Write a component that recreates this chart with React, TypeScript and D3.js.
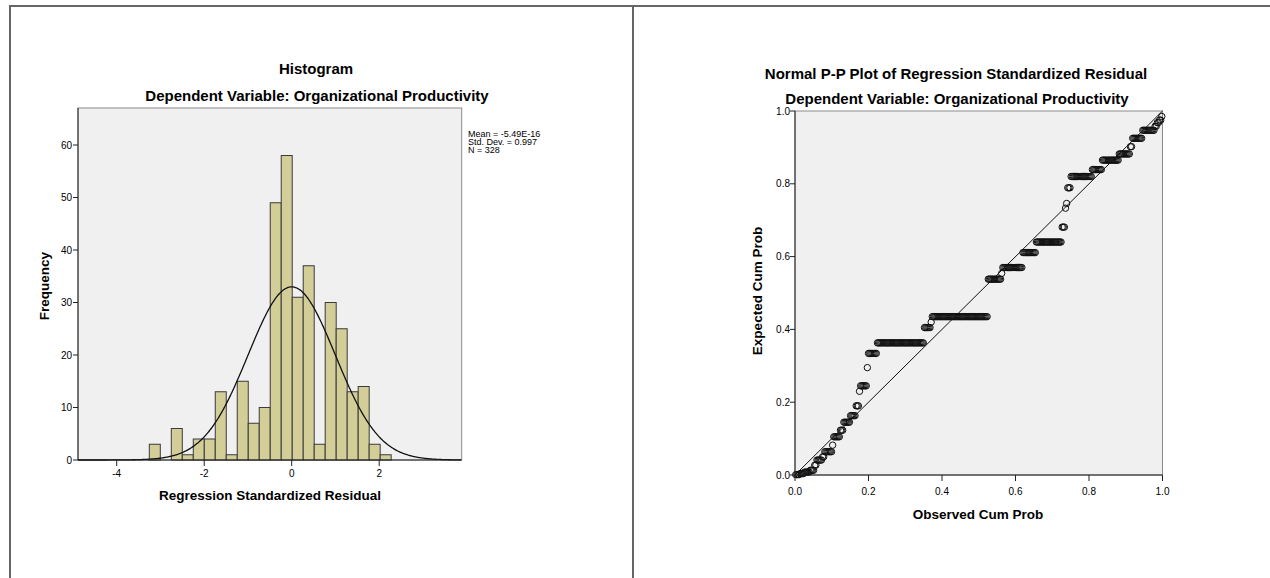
import React from 'react';
import * as d3 from 'd3';

// ---------- Histogram data ----------
const histCounts = [3, 0, 6, 1, 4, 4, 13, 1, 15, 7, 10, 49, 58, 31, 37, 3, 30, 25, 13, 14, 3, 1];
const binStart = -3.255;
const binWidth = 0.2513;
const histXTicks = [-4, -2, 0, 2];
const histYTicks = [0, 10, 20, 30, 40, 50, 60];
const statMean = -5.49e-16;
const statSD = 0.997;
const statN = 328;
const legendLines = ['Mean = -5.49E-16', 'Std. Dev. = 0.997', 'N = 328'];

// ---------- P-P plot data (expected cum prob level, number of tied cases) ----------
const ppLevels = [0.001, 0.004, 0.008, 0.013, 0.027, 0.041, 0.05, 0.064, 0.082, 0.105, 0.123, 0.145, 0.163, 0.19, 0.23, 0.245, 0.295, 0.334,
  0.363, 0.405, 0.42, 0.435, 0.538, 0.554, 0.57, 0.611, 0.64, 0.681, 0.733, 0.746, 0.789, 0.82, 0.839, 0.865, 0.882, 0.902, 0.925, 0.947,
  0.958, 0.968, 0.975, 0.985];
const ppCounts = [4, 4, 5, 4, 2, 5, 2, 7, 1, 6, 3, 6, 5, 3, 1, 6, 1, 8,
  42, 6, 1, 50, 12, 1, 18, 12, 23, 3, 1, 1, 3, 19, 9, 15, 10, 2, 9, 11,
  2, 2, 2, 1];
const ppTicks = [0, 0.2, 0.4, 0.6, 0.8, 1.0];

const FONT = "Arial, 'Liberation Sans', sans-serif";
const TITLE_SIZE = 15;
const LABEL_SIZE = 13.5;

export default function App() {
  // Histogram scales
  const hx = d3.scaleLinear().domain([-4.885, 3.886]).range([78, 461.7]);
  const hy = d3.scaleLinear().domain([0, 67.05]).range([460, 108]);

  const bins = histCounts.map((c, i) => ({ x0: binStart + i * binWidth, x1: binStart + (i + 1) * binWidth, c }));

  const curvePts = d3.range(-4.885, 3.886, 0.02).map((v) => {
    const z = (v - statMean) / statSD;
    const dens = Math.exp(-0.5 * z * z) / (statSD * Math.sqrt(2 * Math.PI));
    return [v, statN * binWidth * dens] as [number, number];
  });
  const curve = d3.line<[number, number]>().x((d) => hx(d[0])).y((d) => hy(d[1])).curve(d3.curveBasis)(curvePts) || '';

  // P-P scales
  const px = d3.scaleLinear().domain([0, 1]).range([795, 1162.5]);
  const py = d3.scaleLinear().domain([0, 1]).range([475, 111]);

  const points: { o: number; e: number }[] = [];
  let rank = 0;
  ppLevels.forEach((lev, k) => {
    for (let j = 0; j < ppCounts[k]; j++) {
      rank += 1;
      points.push({ o: (rank - 0.375) / (statN + 0.25), e: lev });
    }
  });

  return (
    <div style={{ position: 'fixed', left: 0, top: 0 }}>
      <svg width={1270} height={578} style={{ display: 'block', fontFamily: FONT }}>
        <rect x={0} y={0} width={1270} height={578} fill="#ffffff" />
        {/* outer frame */}
        <line x1={9} y1={6} x2={1270} y2={6} stroke="#666" strokeWidth={2} />
        <line x1={10} y1={5} x2={10} y2={578} stroke="#666" strokeWidth={2} />
        <line x1={633} y1={6} x2={633} y2={578} stroke="#666" strokeWidth={2} />

        {/* ---------- Histogram ---------- */}
        <text x={316} y={74} textAnchor="middle" fontSize={TITLE_SIZE} fontWeight="bold">Histogram</text>
        <text x={317} y={101} textAnchor="middle" fontSize={TITLE_SIZE} fontWeight="bold">Dependent Variable: Organizational Productivity</text>
        <rect x={hx.range()[0]} y={hy.range()[1]} width={hx.range()[1] - hx.range()[0]} height={hy.range()[0] - hy.range()[1]} fill="#f0f0f0" stroke="#8c8c8c" strokeWidth={1} />
        {bins.map((b, i) => b.c > 0 ? (
          <rect key={i} x={hx(b.x0)} y={hy(b.c)} width={hx(b.x1) - hx(b.x0)} height={hy(0) - hy(b.c)} fill="#d3ce97" stroke="#3a3a3a" strokeWidth={1} />
        ) : null)}
        <path d={curve} fill="none" stroke="#111" strokeWidth={1.3} />
        <line x1={78} y1={108} x2={78} y2={460} stroke="#222" strokeWidth={1} />
        <line x1={78} y1={460} x2={461.7} y2={460} stroke="#222" strokeWidth={1} />
        {histYTicks.map((t) => (
          <g key={'hy' + t}>
            <line x1={73} x2={78} y1={hy(t)} y2={hy(t)} stroke="#222" />
            <text x={72} y={hy(t) + 3.5} textAnchor="end" fontSize={10}>{t}</text>
          </g>
        ))}
        {histXTicks.map((t) => (
          <g key={'hx' + t}>
            <line x1={hx(t)} x2={hx(t)} y1={460} y2={466} stroke="#222" />
            <text x={hx(t)} y={477} textAnchor="middle" fontSize={10}>{t}</text>
          </g>
        ))}
        <text transform={`translate(49,286) rotate(-90)`} textAnchor="middle" fontSize={LABEL_SIZE} fontWeight="bold">Frequency</text>
        <text x={270} y={500} textAnchor="middle" fontSize={LABEL_SIZE} fontWeight="bold">Regression Standardized Residual</text>
        {legendLines.map((l, i) => (
          <text key={l} x={468} y={137 + i * 8.2} fontSize={9}>{l}</text>
        ))}

        {/* ---------- P-P Plot ---------- */}
        <text x={956} y={79} textAnchor="middle" fontSize={TITLE_SIZE} fontWeight="bold">Normal P-P Plot of Regression Standardized Residual</text>
        <text x={957} y={104} textAnchor="middle" fontSize={TITLE_SIZE} fontWeight="bold">Dependent Variable: Organizational Productivity</text>
        <rect x={px(0)} y={py(1)} width={px(1) - px(0)} height={py(0) - py(1)} fill="#f0f0f0" stroke="#8c8c8c" strokeWidth={1} />
        <line x1={px(0)} y1={py(0)} x2={px(1)} y2={py(1)} stroke="#111" strokeWidth={1} />
        {points.map((p, i) => (
          <circle key={i} cx={px(p.o)} cy={py(p.e)} r={3.2} fill="none" stroke="#111" strokeWidth={1} />
        ))}
        <line x1={px(0)} y1={py(1)} x2={px(0)} y2={py(0)} stroke="#222" strokeWidth={1} />
        <line x1={px(0)} y1={py(0)} x2={px(1)} y2={py(0)} stroke="#222" strokeWidth={1} />
        {ppTicks.map((t) => (
          <g key={'py' + t}>
            <line x1={px(0) - 5} x2={px(0)} y1={py(t)} y2={py(t)} stroke="#222" />
            <text x={px(0) - 5} y={py(t) + 3.5} textAnchor="end" fontSize={10}>{d3.format('.1f')(t)}</text>
          </g>
        ))}
        {ppTicks.map((t) => (
          <g key={'px' + t}>
            <line x1={px(t)} x2={px(t)} y1={py(0)} y2={py(0) + 6} stroke="#222" />
            <text x={px(t)} y={495} textAnchor="middle" fontSize={10}>{d3.format('.1f')(t)}</text>
          </g>
        ))}
        <text transform={`translate(762,291) rotate(-90)`} textAnchor="middle" fontSize={LABEL_SIZE} fontWeight="bold">Expected Cum Prob</text>
        <text x={978} y={519} textAnchor="middle" fontSize={LABEL_SIZE} fontWeight="bold">Observed Cum Prob</text>
      </svg>
    </div>
  );
}
